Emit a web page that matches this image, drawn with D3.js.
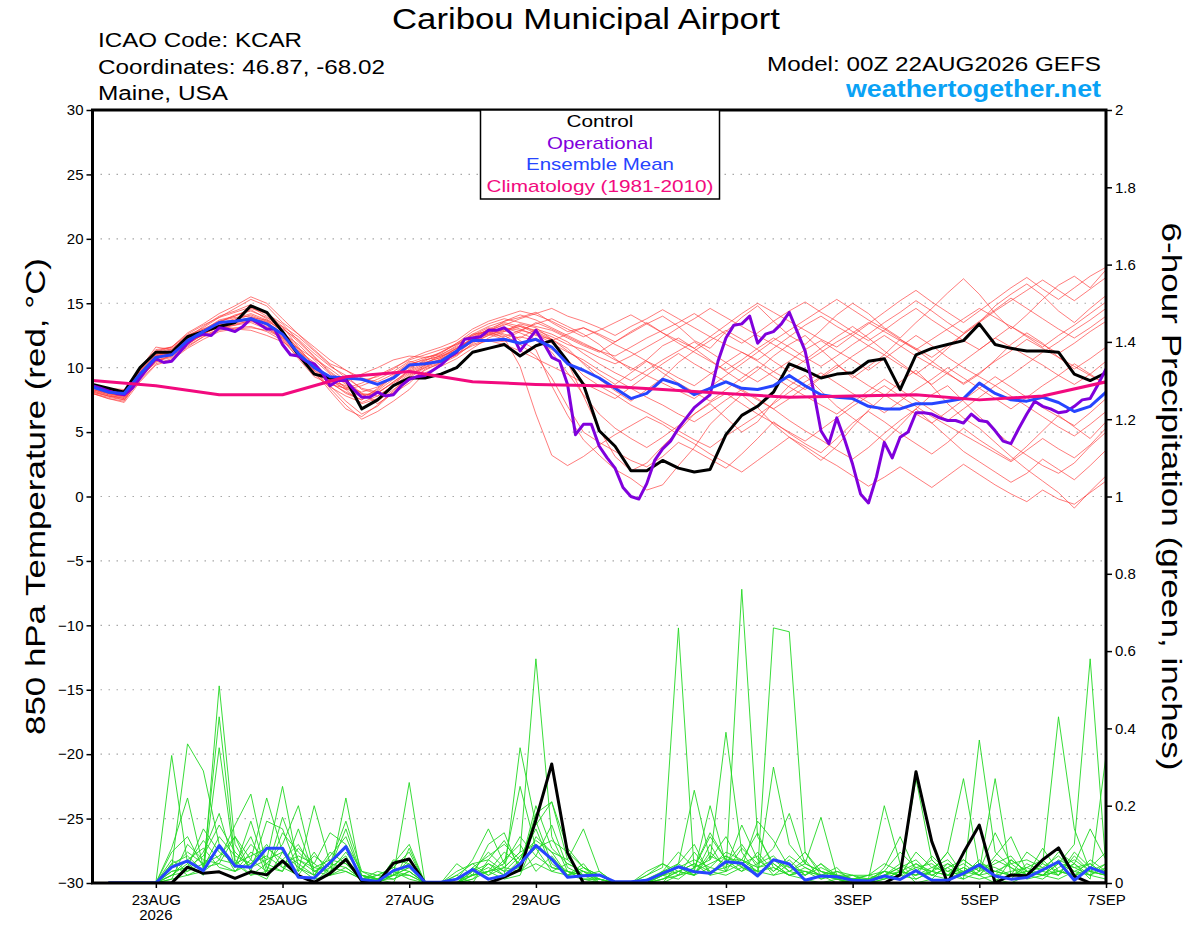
<!DOCTYPE html>
<html>
<head>
<meta charset="utf-8">
<script src="https://cdn.jsdelivr.net/npm/d3@7"></script>
<style>
body { margin: 0; background: #fff; }
svg { display: block; font-family: "Liberation Sans", Arial, Helvetica, sans-serif; }
</style>
</head>
<body>
<svg></svg>
<script>
// run start and tick labels
let runStart = Date.UTC(2026, 7, 22);
let runEnd = Date.UTC(2026, 8, 7);
let tickDays = [[7, 23], [7, 25], [7, 27], [7, 29], [8, 1], [8, 3], [8, 5], [8, 7]];
let tickLabels = ['23AUG', '25AUG', '27AUG', '29AUG', '1SEP', '3SEP', '5SEP', '7SEP'];
let legendLabels = ['Control', 'Operational', 'Ensemble Mean', 'Climatology (1981-2010)'];

// 850 hPa temperature, 6-hourly from 00Z 22AUG
let controlTemp = [8.7,8.4,8.1,10.0,11.2,11.2,12.4,12.8,13.2,13.5,14.8,14.3,12.8,11.0,9.5,9.2,9.1,6.8,7.5,8.6,
  9.2,9.2,9.5,10.0,11.2,11.5,11.8,10.9,11.7,12.1,10.5,8.7,5.1,3.9,2.0,2.0,2.8,2.2,1.9,2.1,
  4.8,6.3,7.0,8.1,10.3,9.8,9.2,9.5,9.6,10.5,10.7,8.3,11.0,11.5,11.8,12.1,13.4,11.8,11.5,11.3,
  11.3,11.2,9.5,9.0,9.6];
let meanTemp = [8.5,8.1,8.0,9.5,10.8,11.0,12.1,12.8,13.5,13.6,13.8,13.4,12.6,11.1,10.0,9.3,9.2,9.1,8.7,9.2,
  10.2,10.3,10.5,11.3,12.1,12.1,12.2,11.9,12.2,11.6,10.3,9.8,9.2,8.4,7.6,8.0,9.1,8.7,7.9,8.4,
  8.9,8.4,8.3,8.6,9.4,8.6,7.9,7.7,7.6,7.0,6.8,6.8,7.2,7.2,7.4,7.6,8.8,8.0,7.5,7.4,
  7.7,7.3,6.6,7.0,8.1];
// operational run, 3-hourly
let operTemp = [8.6,8.4,8.2,8.0,7.9,8.4,9.2,10.0,10.7,10.4,
  10.5,11.2,11.9,12.4,12.6,12.5,13.1,13.0,12.8,13.2,
  13.8,13.4,13.0,13.0,11.8,11.0,10.9,10.5,10.3,9.6,
  8.6,9.0,9.0,8.3,7.7,7.7,8.1,7.8,7.9,8.6,
  9.1,9.3,9.4,9.8,10.2,10.8,11.2,12.2,12.3,12.4,
  12.9,12.9,13.1,12.6,11.3,12.1,12.9,11.9,10.8,10.5,
  8.7,4.8,5.6,5.6,3.9,3.0,2.2,0.7,0.0,-0.2,
  1.0,2.8,3.7,4.3,5.3,6.1,6.9,7.4,7.9,10.5,
  12.3,13.3,13.4,14.0,11.9,12.6,12.8,13.4,14.3,12.8,
  11.3,8.4,5.1,4.1,6.1,4.4,2.5,0.2,-0.5,1.5,
  4.2,3.0,4.6,5.0,6.5,6.5,6.4,6.1,5.9,5.9,
  5.7,6.4,5.9,5.8,5.1,4.3,4.1,5.3,6.4,7.4,
  7.0,6.8,6.5,6.6,7.0,7.5,7.6,8.7,9.9];
// climatology, daily
let climTemp = [9.0,8.6,7.9,7.9,9.3,9.7,8.9,8.7,8.6,8.3,8.0,7.7,7.8,7.9,7.5,7.8,8.9];

// ensemble members, 6-hourly
let memberTemps = [
  [8.3,8.0,7.7,9.9,11.6,11.4,12.5,13.1,13.9,14.6,15.3,14.8,13.5, 12.6,11.4,10.3,9.8,9.2,8.9,9.5,10.4,10.8,11.0,11.7,12.6, 13.2,13.6,13.9,14.3,13.5,12.8,13.1,12.6,12.0,12.7,13.4, 14.0,13.2,12.1,11.5,12.8,13.9,14.8,13.6,12.5,11.8,12.9,14.1,15.0,14.2,13.1, 12.3,13.5,14.6,15.8,16.9,15.7,14.2,13.0,14.1,15.3,16.4,17.1,16.2,17.6],
  [8.0,7.6,7.4,9.2,10.6,10.9,11.8,12.6,13.2,13.3,13.5,13.0,12.4, 11.2,9.8,8.4,7.1,6.0,6.6,7.4,8.3,9.6,10.1,10.7,11.5, 12.3,12.8,13.4,13.1,12.2,10.4,7.8,5.2,3.1,2.0,2.6, 3.9,5.1,6.4,7.2,6.1,5.0,5.8,7.3,8.6,9.4,8.2,7.0,6.1,5.2,4.3, 5.5,6.8,7.9,8.6,7.4,6.2,5.1,4.0,3.2,2.4,1.8,2.6,3.9,5.0],
  [8.4,8.2,8.1,9.6,10.9,11.3,12.2,12.9,13.5,14.1,14.4,13.9,13.1, 12.0,10.8,9.6,8.7,8.0,7.8,8.6,9.9,10.6,10.9,11.3,12.0, 12.7,13.1,12.9,13.4,13.8,13.2,12.6,11.8,10.7,9.8,10.6, 11.7,12.3,11.5,10.6,9.7,8.9,9.8,10.9,11.8,12.5,11.4,10.3,9.2,10.1,11.0, 12.2,11.4,10.5,9.6,8.7,9.5,10.6,11.8,12.7,11.9,10.8,9.9,10.7,11.6],
  [8.1,7.8,7.7,9.3,10.4,11.0,11.9,12.7,13.3,13.0,12.9,12.5,12.0, 11.3,10.4,9.1,8.3,7.2,7.6,8.0,8.8,9.9,10.3,10.9,11.9, 12.5,13.0,12.1,11.4,8.6,6.3,4.4,3.2,2.1,1.4,0.5, 0.9,2.4,3.8,5.6,6.8,7.9,6.9,5.6,4.6,3.7,2.8,3.9,5.4,6.7,7.8, 8.9,9.8,8.6,7.2,6.1,5.3,4.2,3.1,2.1,1.2,0.3,-0.9,0.4,1.6],
  [8.6,8.3,8.2,9.7,11.1,11.5,12.4,12.9,13.4,13.8,14.2,13.7,12.8, 11.5,10.2,9.0,8.3,8.6,9.1,9.7,10.5,10.2,10.6,11.2,12.4, 12.9,13.3,13.8,14.2,14.6,14.0,13.6,13.1,12.5,13.2,13.8, 14.5,13.8,13.1,12.4,11.8,11.2,10.6,11.5,12.4,13.3,14.0,13.2,12.5,11.7,11.0, 10.2,9.5,10.4,11.5,12.6,13.5,14.8,15.7,16.5,15.6,14.4,13.5,14.6,15.6],
  [8.2,7.9,7.8,9.4,10.9,11.1,12.0,12.5,13.0,13.4,13.6,13.2,12.3, 10.9,9.6,8.8,8.1,7.5,8.2,9.1,10.1,10.4,10.8,11.5,12.3, 12.7,12.4,12.9,12.6,11.9,11.2,10.6,9.8,9.1,8.4,7.7, 7.1,6.4,5.8,6.6,7.5,8.3,7.6,6.8,5.9,5.1,4.4,3.6,2.9,3.8,4.9, 5.9,6.8,5.7,4.6,3.5,2.7,1.9,1.1,1.8,2.9,2.1,1.3,2.4,3.6],
  [8.5,8.1,7.9,9.9,11.2,11.0,12.3,13.2,14.0,14.4,14.9,14.2,13.2, 11.6,10.1,8.6,7.4,6.4,7.0,8.1,9.3,10.1,10.5,11.0,12.1, 12.8,13.4,13.0,12.5,12.2,11.5,10.3,9.1,8.2,7.4,8.3, 9.2,10.4,11.3,12.1,12.9,12.2,11.4,10.5,9.7,10.6,11.5,12.4,13.2,12.3,11.3, 10.4,9.5,8.7,9.6,10.5,11.4,12.3,11.6,10.9,10.2,9.4,8.7,9.5,10.5],
  [8.0,7.7,7.5,9.0,10.3,10.7,11.6,12.4,13.0,13.3,13.7,13.6,13.0, 12.2,11.1,10.1,9.4,8.3,8.0,8.9,9.7,10.3,11.0,11.6,12.2, 12.6,12.2,12.8,13.5,13.0,12.4,11.8,11.3,10.9,11.6,12.3, 12.9,13.5,14.2,13.4,12.6,11.9,12.7,13.6,14.4,15.1,14.3,13.6,12.8,12.1,12.9, 13.8,14.6,13.7,12.9,12.1,11.4,12.3,13.2,12.4,11.6,12.5,13.3,14.2,15.1],
  [8.4,8.0,7.8,9.5,10.7,11.2,12.1,12.8,13.6,13.9,14.0,13.5,12.7, 11.8,10.6,9.5,8.4,7.7,8.3,9.3,10.0,10.5,11.2,11.8,12.5, 12.9,12.5,11.8,10.9,9.2,7.0,5.0,4.2,3.5,2.8,2.3, 3.1,4.2,3.6,2.9,2.2,3.3,4.5,5.8,4.9,4.1,3.4,4.5,5.7,6.6,5.8, 4.9,4.1,3.3,4.2,5.3,4.4,3.6,2.8,3.9,5.1,6.3,5.4,4.5,5.8],
  [8.7,8.4,8.3,10.0,11.3,11.6,12.6,13.3,13.9,14.3,14.7,14.0,12.9, 11.4,10.0,9.2,8.9,9.5,10.0,10.6,10.9,10.8,11.1,11.9,12.8, 13.4,13.8,13.5,13.2,12.9,12.3,11.7,11.2,12.0,12.8,13.5, 12.7,11.9,11.2,10.5,9.8,10.6,11.5,12.3,11.6,10.8,10.1,10.9,11.8,12.6,13.5, 14.3,15.2,14.4,13.5,12.7,13.6,14.5,15.4,14.6,13.8,13.0,12.3,13.1,14.0],
  [8.3,7.9,7.6,9.1,10.5,10.8,11.7,12.4,12.9,13.1,13.2,12.8,12.1, 10.8,9.5,8.5,7.8,7.3,7.8,8.6,9.5,10.0,10.4,11.0,11.8, 12.2,12.0,12.4,12.1,11.4,10.6,9.4,8.6,7.9,7.1,6.5, 5.8,5.1,4.4,3.8,4.7,5.5,6.3,7.2,8.1,8.9,9.6,8.8,8.0,7.3,6.5, 7.4,8.3,9.1,10.0,9.2,8.4,7.6,6.8,7.7,8.6,9.4,10.3,9.5,8.7],
  [8.6,8.2,8.0,9.7,11.0,11.3,12.0,12.7,13.1,13.5,13.9,13.4,12.6, 11.3,10.0,8.9,8.0,7.5,8.4,9.4,10.3,10.6,10.9,11.5,12.2, 13.0,12.6,12.3,13.0,12.6,12.0,11.1,10.3,9.6,9.0,9.8, 10.6,11.3,12.0,11.2,10.4,9.6,8.9,9.7,10.5,11.4,12.1,11.3,10.6,9.8,10.7, 11.6,12.5,11.7,10.8,10.0,9.3,8.6,9.4,10.3,11.2,12.0,12.9,13.7,14.6],
  [8.2,7.8,7.6,9.3,10.7,11.0,11.9,12.7,13.4,13.7,14.1,13.6,12.5, 11.0,9.8,9.0,8.6,8.1,8.5,9.2,10.2,10.7,11.2,11.9,12.6, 12.8,12.3,10.1,6.4,3.2,2.4,3.1,4.0,4.8,5.5,6.2, 5.6,4.8,4.1,3.3,2.6,1.9,2.8,3.7,4.6,3.9,3.1,2.4,1.6,0.8,1.5, 2.3,1.5,0.7,1.6,2.5,1.7,0.9,0.2,-0.4,0.5,-0.2,-0.6,0.3,1.2],
  [8.5,8.3,8.2,9.8,11.2,11.6,12.7,13.4,14.2,14.8,15.5,15.0,13.8, 12.6,11.6,10.6,9.8,9.0,9.3,9.9,10.7,11.2,11.6,12.1,13.0, 13.6,14.0,14.4,14.1,13.6,13.0,12.4,12.9,13.5,14.1,13.4, 12.7,12.1,11.5,12.4,13.3,14.2,15.0,14.3,13.6,12.9,12.2,11.6,12.5,13.4,14.3, 15.2,16.0,15.1,14.3,13.5,14.4,15.3,16.2,17.0,16.1,15.3,16.2,17.1,17.8],
  [8.4,8.1,7.9,9.4,10.8,11.1,12.2,12.9,13.7,14.0,14.5,13.8,12.8, 11.2,9.7,8.2,6.8,6.2,7.1,8.2,9.4,10.2,10.6,11.3,12.0, 12.5,12.9,13.3,12.8,12.2,11.3,10.4,9.5,8.7,9.6,10.5, 9.6,8.8,8.1,7.4,8.3,9.2,10.1,9.3,8.5,7.8,7.1,6.4,7.3,8.2,9.1, 8.3,7.5,6.7,5.9,6.8,7.7,8.6,7.8,7.0,6.2,5.4,4.7,5.6,6.6],
  [8.1,7.8,7.5,9.2,10.5,10.9,11.8,12.6,13.3,13.6,13.9,13.7,13.2, 12.4,11.3,10.2,9.2,8.4,8.1,8.8,9.6,10.2,10.7,11.4,12.3, 13.0,13.5,13.2,12.7,12.1,12.6,13.1,12.5,11.8,11.2,10.5, 9.9,9.2,8.6,9.5,10.4,11.2,10.5,9.7,9.0,8.3,9.2,10.0,10.9,11.7,12.5, 11.7,10.9,10.2,9.5,8.8,9.6,10.5,11.3,12.2,11.5,10.8,10.1,9.4,8.7],
  [8.3,8.0,7.8,9.5,10.9,11.2,12.0,12.6,13.2,13.5,13.8,13.3,12.4, 11.0,9.9,9.1,8.5,7.9,8.0,8.9,9.8,10.4,10.8,11.5,12.1, 12.6,13.1,12.7,12.2,11.2,9.6,7.9,6.4,5.3,4.5,3.8, 4.6,5.5,6.4,7.3,8.0,7.2,6.4,5.7,5.0,4.3,5.2,6.1,7.0,7.8,8.6, 7.8,7.0,6.2,5.5,4.8,4.1,3.4,2.7,3.6,4.5,3.7,3.0,4.0,5.3],
  [8.6,8.3,8.1,9.8,11.4,11.6,12.5,13.0,13.3,13.5,13.7,13.1,12.2, 10.7,9.3,8.7,8.4,8.8,9.4,10.0,10.6,11.0,11.4,11.8,12.5, 13.1,12.8,13.2,12.9,12.4,11.8,11.4,10.8,10.3,10.9,11.6, 12.3,13.1,13.8,14.6,13.9,13.2,12.5,11.8,11.1,10.4,11.2,12.0,12.7,13.5,12.8, 12.1,11.4,12.2,13.0,13.8,14.6,13.9,13.2,12.5,11.8,11.1,11.9,12.8,13.6],
  [8.0,7.6,7.3,8.9,10.2,10.6,11.5,12.2,12.8,13.0,13.1,12.9,12.3, 11.5,10.7,9.9,9.0,8.0,7.2,8.0,9.0,9.8,10.4,11.1,11.7, 12.1,11.8,11.3,10.7,10.1,9.5,8.8,8.2,7.6,8.5,9.4, 10.3,11.1,10.3,9.6,8.9,8.2,7.5,6.8,7.6,8.5,9.3,10.2,9.4,8.6,7.9, 7.1,6.4,5.7,6.6,7.5,8.4,9.3,8.5,7.7,6.9,6.2,5.5,6.5,7.6],
  [8.5,8.2,8.0,9.6,11.0,11.4,12.3,13.0,13.6,14.0,14.6,14.2,13.4, 12.1,10.9,9.7,8.8,7.9,7.4,8.3,9.2,10.0,10.7,11.2,12.0, 12.8,13.6,14.1,13.7,13.1,12.5,11.9,11.3,10.6,10.0,9.4, 8.8,8.2,7.6,8.5,9.4,10.3,11.2,12.1,12.9,13.7,14.5,15.3,14.5,13.7,13.0, 12.2,11.5,10.8,11.7,12.6,13.5,14.4,15.2,16.0,16.8,16.0,15.2,16.1,17.0]
];

// 6-hour precipitation (inches), valid 06Z 22AUG onward
let controlPrecip = [0,0,0,0,0,.041,.025,.029,.012,.029,.021,.057,.019,.002,.025,.061,
  .006,0,.051,.062,0,0,0,0,0,.015,.034,.163,.308,.078,0,0,
  0,0,0,0,0,0,0,0,0,0,0,0,0,0,0,0,
  0,0,.021,.288,.107,0,.078,.15,0,.021,.019,.06,.091,.018,0,0];
let meanPrecip = [0,0,0,0,.041,.057,.032,.097,.044,.041,.09,.09,.015,.013,.053,.094,
  .009,.004,.032,.045,.002,.002,.01,.035,.01,.019,.049,.097,.062,.015,.019,.021,
  .003,.003,.007,.025,.042,.029,.025,.055,.051,.018,.060,.049,.007,.018,.016,.007,
  .005,.018,.009,.032,.007,.007,.025,.047,.018,.010,.014,.034,.055,.007,.040,.025];
let memberPrecips = [
  [0,0,0,0,.33,.05,.02,.51,.10,.03,.01,.08,.02,0,.04,.07, 0,0,.02,.26,0,0,.03,.05,.02,.04,.08,.58,.12,.03,.01,0, 0,0,0,0,.05,.10,.02,.03,.76,.12,.05,.02,.01,0,.01,0, 0,.02,.04,0,.01,.05,.03,.02,0,.06,.03,.02,.05,.10,.58,.04],
  [0,0,0,0,.04,.36,.29,.10,.03,.06,.22,.08,.04,.01,.02,.22, .01,0,.06,.05,0,0,0,.03,.05,.02,.35,.15,.21,.06,.14,.03, 0,0,0,.02,.05,.24,.06,.39,.08,.02,.30,.10,.05,.17,.02,.01, 0,.03,.02,.27,.06,.02,.01,.37,.08,.04,.01,.02,.03,.05,.01,.33],
  [0,0,0,0,.08,.12,.04,.43,.06,.02,.05,.03,.14,.02,.08,.05, .02,.01,0,.09,0,0,.02,0,.06,.11,.04,.18,.21,.09,.04,.02, 0,0,.03,.05,.02,.04,.12,.06,.06,.03,.66,.65,.08,.02,.04,0, .01,.20,.05,.01,.03,.08,.27,.04,.01,0,.02,.05,.43,.14,.03,.02],
  [0,0,0,0,.02,.05,.11,.06,.15,.23,.04,.03,.09,.05,.02,.03, .01,.02,.04,.03,0,0,.05,.02,.03,.01,.02,.12,.08,.06,.02,.01, 0,0,.02,.04,.66,.03,.20,.05,.10,.04,.06,.03,.02,.05,.02,.01, .02,.03,.08,.04,.05,.02,.06,.03,.27,.02,.04,.06,.02,.08,.04,.03],
  [0,0,0,0,.06,.03,.08,.18,.04,.10,.06,.25,.04,.02,.07,.12, .02,0,.03,.02,0,0,0,.04,.02,.06,.10,.03,.07,.02,.05,0, 0,0,0,.01,.03,.02,.04,.08,.06,.13,.04,.02,.03,.01,.02,.01, 0,.01,.03,.02,.07,.03,.02,.01,.02,.06,.03,.02,.01,.03,.05,.02],
  [0,0,0,0,.01,.10,.06,.05,.12,.03,.16,.14,.03,.20,.05,.16, .03,.01,.02,.04,0,0,0,.02,.10,.13,.03,.05,.03,.02,.01,.01, 0,0,0,0,.02,.08,.03,.04,.15,.06,.03,.07,.04,.02,0,.01, .01,.02,.01,.05,.03,.02,.04,.02,.07,.12,.03,.02,.06,.04,.02,.01],
  [0,0,0,0,.03,.04,.14,.08,.05,.02,.03,.17,.06,.04,.03,.08, .02,.01,.05,.10,0,0,.01,.06,.14,.05,.25,.09,.03,.05,.03,.02, 0,0,0,.02,.01,.04,.06,.12,.04,.16,.11,.04,.03,.02,.01,.02, 0,.04,.12,.03,.02,.04,.01,.03,.13,.05,.02,.09,.03,.02,.04,.08],
  [0,0,0,0,.05,.02,.03,.35,.05,.12,.02,.06,.10,.03,.05,.09, .01,.02,.01,.03,0,0,0,.02,.04,.02,.06,.14,.04,.03,.02,0, 0,0,.01,.03,.04,.02,.10,.03,.05,.07,.02,.03,.06,.01,.03,.02, .02,.01,.02,.01,.03,.05,.02,.06,.02,.01,.05,.03,.02,.05,.14,.06],
  [0,0,0,0,.09,.22,.04,.12,.07,.05,.10,.04,.02,.08,.02,.04, .01,0,.02,.06,0,0,0,.01,.03,.05,.12,.07,.15,.04,.02,.03, 0,0,0,.03,.08,.04,.13,.06,.03,.05,.09,.18,.05,.03,.01,0, 0,.02,.04,.06,.02,.01,.03,.05,.04,.02,.03,.04,.07,.03,.02,.05],
  [0,0,0,0,.02,.06,.09,.04,.03,.08,.05,.10,.20,.03,.02,.06, .02,.01,.03,.01,0,0,.02,.05,.06,.03,.04,.20,.09,.05,.03,.01, 0,0,0,.01,.03,.05,.02,.07,.05,.03,.02,.05,.02,.04,.02,.01, .01,.03,.02,.08,.04,.03,.05,.02,.06,.04,.02,.01,.04,.06,.03,.02],
  [0,0,0,0,.04,.08,.05,.09,.04,.16,.03,.05,.07,.05,.13,.10, .03,.02,.04,.08,0,0,0,.03,.08,.04,.08,.10,.06,.03,.02,.02, 0,0,.02,.05,.03,.02,.08,.04,.06,.04,.05,.02,.04,.02,.03,.01, .02,.05,.03,.02,.04,.06,.02,.04,.03,.02,.08,.05,.03,.02,.06,.03],
  [0,0,0,0,.03,.04,.07,.15,.08,.04,.06,.08,.05,.02,.04,.03, .01,.01,.02,.04,0,0,.01,.02,.03,.08,.05,.09,.11,.08,.04,.02, 0,0,0,.02,.04,.06,.04,.03,.09,.05,.07,.03,.05,.03,.02,.02, .01,.02,.05,.03,.06,.02,.03,.05,.02,.03,.04,.02,.05,.04,.05,.02],
  [0,0,0,0,.02,.03,.05,.07,.12,.06,.03,.13,.08,.04,.06,.05, .01,.03,.02,.02,0,0,0,.04,.07,.10,.06,.16,.05,.02,.03,0, 0,0,0,.01,.02,.03,.05,.07,.04,.02,.06,.04,.08,.03,.02,.01, 0,.01,.03,.05,.02,.04,.06,.03,.05,.07,.02,.03,.08,.05,.02,.04],
  [0,0,0,0,.05,.07,.03,.06,.05,.07,.09,.06,.03,.07,.04,.14, .02,.01,.03,.05,0,0,0,.01,.05,.03,.07,.11,.08,.02,.04,.01, 0,0,0,.03,.05,.02,.07,.05,.03,.08,.03,.06,.02,.05,.01,.01, .01,.03,.02,.04,.03,.08,.02,.05,.03,.05,.06,.04,.02,.07,.03,.05],
  [0,0,0,0,.01,.02,.04,.05,.03,.05,.07,.04,.06,.03,.05,.04, .01,.01,.01,.03,0,0,0,.02,.03,.04,.03,.07,.04,.03,.01,.01, 0,0,0,.02,.03,.05,.03,.02,.04,.03,.04,.02,.03,.02,.01,0, 0,.02,.03,.02,.03,.02,.04,.02,.03,.02,.03,.02,.03,.02,.03,.02]
];

let svgWidth = 1200;
let svgHeight = 927;
let plotLeft = 92.5, plotRight = 1106, plotTop = 110, plotBottom = 883;
let fontFamily = '"Liberation Sans", Arial, Helvetica, sans-serif';

let hour = 3600 * 1000;
let at = (step, i) => new Date(runStart + i * step * hour);

let xScale = d3.scaleUtc()
    .domain([new Date(runStart), new Date(runEnd)])
    .range([plotLeft, plotRight]);
let yTemp = d3.scaleLinear().domain([-30, 30]).range([plotBottom, plotTop]);
let yPrecip = d3.scaleLinear().domain([0, 2]).range([plotBottom, plotTop]);

let svg = d3.select('svg')
    .attr('width', svgWidth)
    .attr('height', svgHeight);

// the source font is wider than Liberation Sans, so stretch texts to the measured widths
function stretchTo(sel, w) {
  sel.attr('textLength', w).attr('lengthAdjust', 'spacingAndGlyphs');
}

svg.append('clipPath').attr('id', 'plot')
  .append('rect')
    .attr('x', plotLeft).attr('y', plotTop)
    .attr('width', plotRight - plotLeft).attr('height', plotBottom - plotTop);

// dotted grid at the temperature ticks
svg.append('g')
  .selectAll('line')
  .data(d3.range(-25, 26, 5))
  .enter()
  .append('line')
    .attr('x1', plotLeft).attr('x2', plotRight)
    .attr('y1', d => yTemp(d)).attr('y2', d => yTemp(d))
    .attr('stroke', '#a8a8a8')
    .attr('stroke-width', 1.2)
    .attr('stroke-dasharray', '1.5,6.5');

let plot = svg.append('g').attr('clip-path', 'url(#plot)');

let tempLine = step => d3.line()
    .x((d, i) => xScale(at(step, i)))
    .y(d => yTemp(d));
let precipLine = d3.line()
    .x((d, i) => xScale(at(6, i + 1)))
    .y(d => yPrecip(d));

plot.selectAll('.member')
    .data(memberTemps)
    .enter()
    .append('path')
        .attr('d', tempLine(6))
        .attr('fill', 'none')
        .attr('stroke', '#ff3b3b')
        .attr('stroke-opacity', 0.75)
        .attr('stroke-width', 0.9);

plot.selectAll('.pmember')
    .data(memberPrecips)
    .enter()
    .append('path')
        .attr('d', precipLine)
        .attr('fill', 'none')
        .attr('stroke', '#22d822')
        .attr('stroke-width', 0.9);

plot.append('path').attr('d', precipLine(controlPrecip))
    .attr('fill', 'none').attr('stroke', '#000').attr('stroke-width', 3).attr('stroke-linejoin', 'round');
plot.append('path').attr('d', precipLine(meanPrecip))
    .attr('fill', 'none').attr('stroke', '#2645ff').attr('stroke-width', 3).attr('stroke-linejoin', 'round');

plot.append('path').attr('d', tempLine(6)(controlTemp))
    .attr('fill', 'none').attr('stroke', '#000').attr('stroke-width', 3).attr('stroke-linejoin', 'round');
plot.append('path').attr('d', tempLine(3)(operTemp))
    .attr('fill', 'none').attr('stroke', '#8000dc').attr('stroke-width', 3).attr('stroke-linejoin', 'round');
plot.append('path').attr('d', tempLine(6)(meanTemp))
    .attr('fill', 'none').attr('stroke', '#2645ff').attr('stroke-width', 3).attr('stroke-linejoin', 'round');
plot.append('path').attr('d', tempLine(24)(climTemp))
    .attr('fill', 'none').attr('stroke', '#f20a7e').attr('stroke-width', 3).attr('stroke-linejoin', 'round');

// axes
let leftAxis = d3.axisLeft(yTemp).tickValues(d3.range(-30, 31, 5)).tickSize(6).tickSizeOuter(0);
let rightAxis = d3.axisRight(yPrecip).tickValues(d3.range(0, 2.01, 0.2))
    .tickFormat(d => d3.format('~g')(+d.toFixed(1))).tickSize(6).tickSizeOuter(0);
let tickDates = tickDays.map(d => new Date(Date.UTC(2026, d[0], d[1])));
let bottomAxis = d3.axisBottom(xScale).tickValues(tickDates)
    .tickFormat((d, i) => tickLabels[i]).tickSize(5).tickSizeOuter(0);

let styleAxis = g => {
  g.select('.domain').remove();
  g.selectAll('line').attr('stroke', '#000').attr('stroke-width', 1.5);
  g.selectAll('text').attr('fill', '#000').style('font-family', fontFamily).style('font-size', '15px');
};

svg.append('g').attr('transform', `translate(${plotLeft},0)`).call(leftAxis).call(styleAxis)
    .selectAll('text').attr('x', -9);
svg.append('g').attr('transform', `translate(${plotRight},0)`).call(rightAxis).call(styleAxis)
    .selectAll('text').attr('x', 9);
svg.append('g').attr('transform', `translate(0,${plotBottom})`).call(bottomAxis).call(styleAxis)
    .selectAll('text').attr('y', 11);

svg.append('text')
    .attr('x', xScale(tickDates[0])).attr('y', 920)
    .style('text-anchor', 'middle').style('font-size', '15px')
    .text('2026');

// frame
svg.append('rect')
    .attr('x', plotLeft).attr('y', plotTop)
    .attr('width', plotRight - plotLeft).attr('height', plotBottom - plotTop)
    .attr('fill', 'none').attr('stroke', '#000').attr('stroke-width', 3);

// legend
let legendColors = ['#000', '#8000dc', '#2645ff', '#f20a7e'];
let legendWidths = [67, 106, 148, 227];
svg.append('rect')
    .attr('x', 480.5).attr('y', plotTop).attr('width', 239).attr('height', 89)
    .attr('fill', '#fff').attr('stroke', '#000').attr('stroke-width', 1.5);
svg.append('g')
  .selectAll('text')
  .data(legendLabels)
  .enter()
  .append('text')
    .attr('x', 600)
    .attr('y', (d, i) => 127 + i * 21.5)
    .style('text-anchor', 'middle')
    .style('font-size', '17px')
    .attr('fill', (d, i) => legendColors[i])
    .attr('textLength', (d, i) => legendWidths[i])
    .attr('lengthAdjust', 'spacingAndGlyphs')
    .text(d => d);

// headings
svg.append('text')
    .attr('x', 586).attr('y', 29)
    .style('text-anchor', 'middle').style('font-size', '29px')
    .text('Caribou Municipal Airport')
    .call(stretchTo, 388);

let info = ['ICAO Code: KCAR', 'Coordinates: 46.87, -68.02', 'Maine, USA'];
let infoWidths = [204, 287, 130];
svg.append('g')
  .selectAll('text')
  .data(info)
  .enter()
  .append('text')
    .attr('x', 98)
    .attr('y', (d, i) => 47 + i * 26.5)
    .style('font-size', '20px')
    .attr('textLength', (d, i) => infoWidths[i])
    .attr('lengthAdjust', 'spacingAndGlyphs')
    .text(d => d);

svg.append('text')
    .attr('x', 1101).attr('y', 71)
    .style('text-anchor', 'end').style('font-size', '20px')
    .text('Model: 00Z 22AUG2026 GEFS')
    .call(stretchTo, 334);
svg.append('text')
    .attr('x', 1101).attr('y', 97)
    .style('text-anchor', 'end').style('font-size', '23px').style('font-weight', 'bold')
    .attr('fill', '#0aa2f5')
    .text('weathertogether.net')
    .call(stretchTo, 255);

svg.append('text')
    .attr('transform', 'rotate(-90)')
    .attr('x', -(plotTop + plotBottom) / 2)
    .attr('y', 45)
    .style('text-anchor', 'middle')
    .style('font-size', '28px')
    .text('850 hPa Temperature (red, °C)')
    .call(stretchTo, 477);

svg.append('text')
    .attr('transform', 'rotate(90)')
    .attr('x', (plotTop + plotBottom) / 2)
    .attr('y', -1162)
    .style('text-anchor', 'middle')
    .style('font-size', '28px')
    .text('6-hour Precipitation (green, inches)')
    .call(stretchTo, 548);
</script>
</body>
</html>
